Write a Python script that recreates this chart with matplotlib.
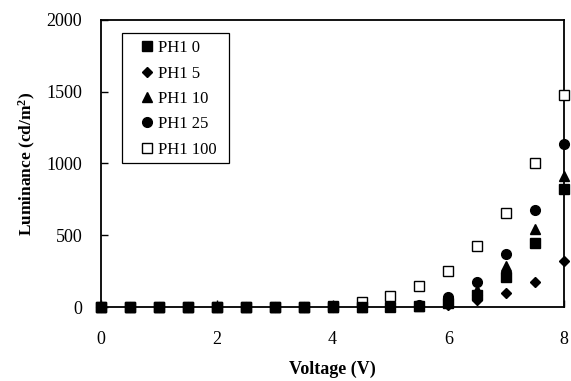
import matplotlib.pyplot as plt
from matplotlib.patches import Rectangle

plt.rcParams['font.family'] = ['Liberation Serif', 'DejaVu Serif']
plt.rcParams['mathtext.fontset'] = 'custom'
plt.rcParams['mathtext.rm'] = 'Liberation Serif:bold'
plt.rcParams['mathtext.it'] = 'Liberation Serif:bold'
plt.rcParams['mathtext.bf'] = 'Liberation Serif:bold'

voltage = [0, 0.5, 1, 1.5, 2, 2.5, 3, 3.5, 4, 4.5, 5, 5.5, 6, 6.5, 7, 7.5, 8]

ph1_0 = [0, 0, 0, 0, 0, 0, 0, 0, 1, 2, 4, 8, 28, 85, 210, 444, 820]
ph1_5 = [0, 0, 0, 0, 0, 0, 0, 0, 1, 1, 3, 5, 18, 50, 95, 176, 323]
ph1_10 = [0, 0, 0, 0, 0, 0, 0, 0, 1, 2, 5, 10, 42, 120, 286, 541, 913]
ph1_25 = [0, 0, 0, 0, 0, 0, 0, 0, 1, 3, 6, 15, 72, 178, 367, 676, 1136]
ph1_100 = [0, 0, 0, 0, 0, 0, 0, 1, 5, 38, 78, 149, 252, 425, 657, 1002, 1480]

labels = ["PH1 0", "PH1 5", "PH1 10", "PH1 25", "PH1 100"]

fig = plt.figure(figsize=(5.71, 3.81), dpi=100)
ax = fig.add_axes([0.177, 0.194, 0.811, 0.754])

# open squares go underneath so the filled markers cover them near zero
ax.plot(voltage, ph1_100, linestyle='none', marker='s', markersize=6.5,
        markerfacecolor='white', markeredgecolor='black', markeredgewidth=1.0,
        label=labels[4], zorder=3, clip_on=False)
ax.plot(voltage, ph1_25, linestyle='none', marker='o', markersize=7,
        color='black', label=labels[3], zorder=4, clip_on=False)
ax.plot(voltage, ph1_10, linestyle='none', marker='^', markersize=7.5,
        color='black', label=labels[2], zorder=5, clip_on=False)
ax.plot(voltage, ph1_0, linestyle='none', marker='s', markersize=6.5,
        color='black', label=labels[0], zorder=6, clip_on=False)
ax.plot(voltage, ph1_5, linestyle='none', marker='D', markersize=5.5,
        color='black', label=labels[1], zorder=7, clip_on=False)

ax.set_xlim(0, 8)
ax.set_ylim(0, 2000)
ax.set_xticks([0, 2, 4, 6, 8])
ax.set_yticks([0, 500, 1000, 1500, 2000])
ax.tick_params(direction='in', length=5, width=1, labelsize=13)
ax.tick_params(axis='x', pad=17)
ax.tick_params(axis='y', pad=13.5)
for s in ax.spines.values():
    s.set_linewidth(1.3)

ax.set_xlabel("Voltage (V)", fontsize=13, fontweight='bold', labelpad=9.5)
ax.set_ylabel("Luminance (cd/m$^2$)", fontsize=12.5, fontweight='bold', labelpad=6)

handles, lbls = ax.get_legend_handles_labels()
order = [3, 4, 2, 1, 0]
ax.legend([handles[i] for i in order], [lbls[i] for i in order],
          loc='upper left', bbox_to_anchor=(0.085, 0.929),
          frameon=False, fontsize=12, handlelength=0.8, handletextpad=0.26,
          borderpad=0, borderaxespad=0, labelspacing=0.56)
# the box round the legend, sized like the original
ax.add_patch(Rectangle((0.0454, 0.502), 0.2311, 0.453, transform=ax.transAxes,
                       fill=False, edgecolor='black', linewidth=0.9, zorder=8))

fig.savefig("out.png", dpi=100)
